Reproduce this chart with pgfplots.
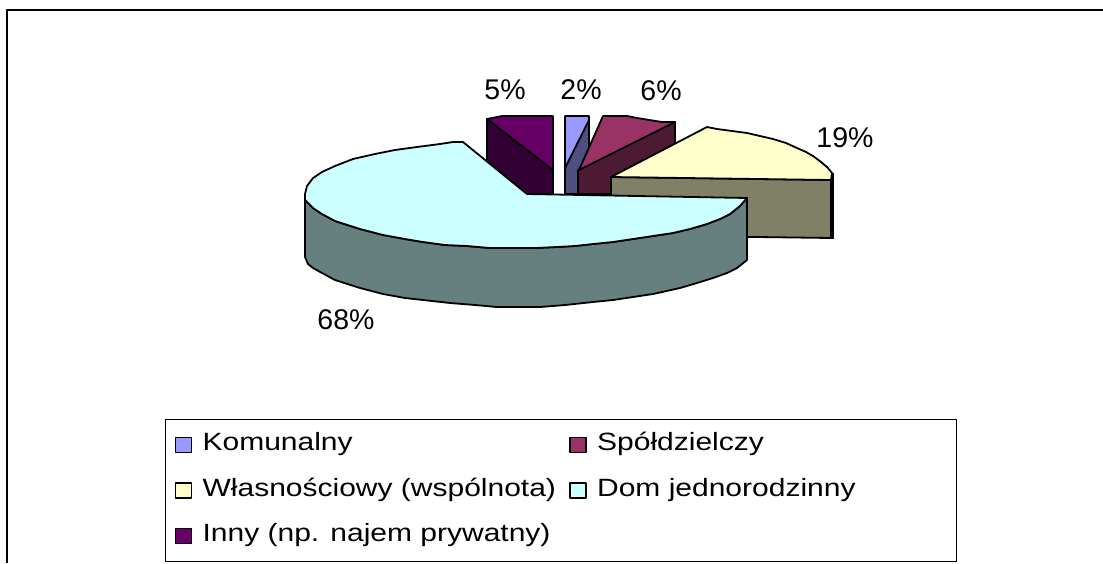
\documentclass[border=0pt]{standalone}
\usepackage{fontspec}
\setmainfont{Liberation Sans}
\newfontfamily\legfont[FakeStretch=1.2]{Liberation Sans}
\usepackage{pgfplots}
\pgfplotsset{compat=1.18}

\definecolor{kom}{HTML}{9999FF}
\definecolor{komside}{HTML}{505080}
\definecolor{spo}{HTML}{993366}
\definecolor{sposide}{HTML}{4D1A33}
\definecolor{wla}{HTML}{FFFFCC}
\definecolor{wlaside}{HTML}{808066}
\definecolor{dom}{HTML}{CCFFFF}
\definecolor{domside}{HTML}{668080}
\definecolor{inn}{HTML}{660066}
\definecolor{innside}{HTML}{330033}

\begin{document}
\begin{tikzpicture}
\useasboundingbox (0,0) rectangle (1103pt,563pt);
\begin{axis}[
    at={(0,0)}, anchor=south west,
    scale only axis,
    width=1103pt, height=563pt,
    xmin=0, xmax=1103, ymin=0, ymax=563,
    y dir=reverse,
    hide axis,
    clip=false,
    font=\fontsize{28.5pt}{32pt}\selectfont,
    every axis plot/.append style={line width=1.8pt, line join=round, draw=black},
    legend columns=2,
    legend cell align=left,
    legend image code/.code={\draw[#1, line width=1.6pt] (0pt,-7.5pt) rectangle (16pt,7.5pt);},
    legend style={
        at={(axis cs:165,419)}, anchor=north west,
        draw=black, line width=1pt,
        inner xsep=9pt, inner ysep=14pt,
        font=\legfont\fontsize{25pt}{28pt}\selectfont,
        nodes={inner sep=0pt, text height=17pt, text depth=6pt},
        /tikz/every odd column/.style={column sep=10.5pt},
        /tikz/column 2/.style={column sep=13pt},
        /tikz/row sep=22.5pt,
    },
]
% frame of the chart area
\addplot[forget plot, line width=1.5pt] coordinates {(7,563) (7,10) (1103,10)};

% back sides first
\addplot[forget plot, fill=innside] coordinates {(487,119) (553,170) (553,194) (487,194)} --cycle;

\addplot[forget plot, fill=komside] coordinates {(589,118) (565,168) (565,194) (589,194)} --cycle;
\addplot[fill=kom] coordinates {(565,116) (589,116) (589,120) (565,168)} --cycle;
\addlegendentry{Komunalny}

\addplot[forget plot, fill=sposide] coordinates {(675,122) (578,170) (578,194) (675,194)} --cycle;
\addplot[fill=spo] coordinates {(603,116) (627,116) (637,118) (662,122) (675,122) (579,170)} --cycle;
\addlegendentry{\makebox[350pt][l]{Spółdzielczy}}

\addplot[forget plot, fill=wlaside] coordinates {(611,177) (831,180) (831,238) (611,235)} --cycle;
\addplot[forget plot, line width=3pt] coordinates {(832,173) (832,239)};
\addplot[fill=wla] coordinates {(611,177) (707,127) (717,129) (732,131) (747,133) (760,136) (773,139) (786,143) (797,148) (806,152) (813,156) (821,162) (827,167) (832,173) (831,180)} --cycle;
\addlegendentry{Własnościowy (wspólnota)}

\addplot[forget plot, fill=domside] coordinates {
    (305,200) (305,257) (308,264) (313,268) (322,273) (335,280) (360,288) (383,294) (405,298) (423,300)
    (450,303) (475,305) (497,307) (520,307) (540,307) (565,305) (593,302) (613,300) (633,297) (653,294)
    (680,288) (697,283) (713,278) (727,273) (737,268) (747,260) (747,198)
    (740,206) (730,214) (720,219) (707,224) (690,229) (673,233) (653,236) (633,239) (613,242) (593,244)
    (575,246) (557,247) (535,248) (510,248) (490,248) (467,246) (445,245) (423,242) (405,239) (383,235)
    (360,229) (335,221) (322,214) (313,208)
} --cycle;
\addplot[fill=dom] coordinates {
    (527,194) (463,142) (453,142) (440,144) (417,147) (395,150) (375,154) (353,159) (335,166) (322,172)
    (313,178) (307,186) (305,194) (305,200) (313,208) (322,214) (335,221) (360,229) (383,235) (405,239)
    (423,242) (445,245) (467,246) (490,248) (510,248) (535,248) (557,247) (575,246) (593,244) (613,242)
    (633,239) (653,236) (673,233) (690,229) (707,224) (720,219) (730,214) (740,206) (747,198)
} --cycle;
\addlegendentry{Dom jednorodzinny}

\addplot[fill=inn] coordinates {(487,119) (502,116) (553,116) (553,170)} --cycle;
\addlegendentry{Inny (np. najem prywatny)}

% data labels
\node at (axis cs:505,90) {5\%};
\node at (axis cs:581,90) {2\%};
\node at (axis cs:661,91) {6\%};
\node at (axis cs:845,138) {19\%};
\node at (axis cs:346,320) {68\%};
\end{axis}
\end{tikzpicture}
\end{document}
